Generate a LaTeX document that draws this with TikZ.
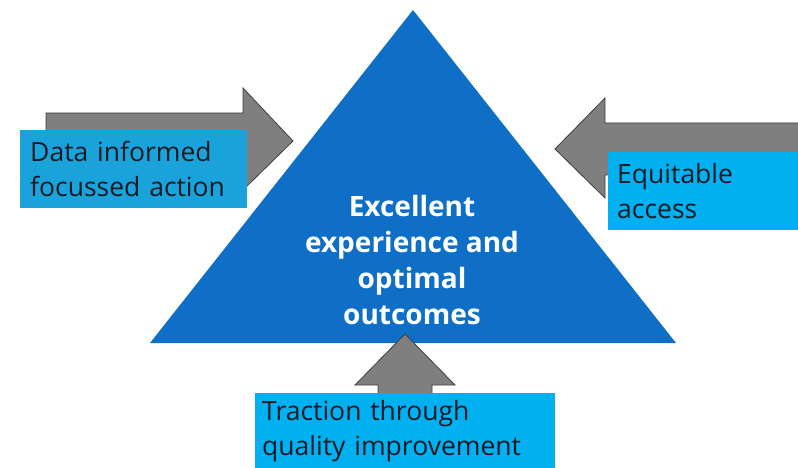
\documentclass[tikz,border=0pt]{standalone}
\usepackage{fontspec}
\setmainfont{Open Sans}
\usetikzlibrary{positioning}
\definecolor{triBlue}{HTML}{0F6FC6}
\definecolor{boxCyan}{HTML}{00B0F0}
\definecolor{boxCyanDark}{HTML}{1AA2DA}
\definecolor{pushGray}{HTML}{7F7F7F}
\definecolor{pushEdge}{HTML}{3F3F3F}
\definecolor{inkDark}{HTML}{1A1A24}

\begin{document}
\begin{tikzpicture}[
  x=1pt, y=-1pt,
  push/.style={fill=pushGray, draw=pushEdge, line width=0.8pt, line join=miter},
  driver/.style={rectangle, fill=boxCyan, draw=none, anchor=north west,
                 align=left, text=inkDark, minimum height=78pt,
                 font=\fontsize{26.5}{35}\selectfont},
  goal/.style={align=center, text=white,
               font=\fontsize{28}{36.3}\selectfont\bfseries},
]
\useasboundingbox (0,0) rectangle (798,468);

% triangle in the middle
\coordinate (apex) at (413,10);
\coordinate (baseL) at (150,343);
\coordinate (baseR) at (676,343);
\fill[triBlue] (apex) -- (baseR) -- (baseL) -- cycle;

% block arrows pushing into the triangle
\coordinate (tipL) at (293,141);
\coordinate (tipR) at (555,149);
\coordinate (tipB) at (405,334);
\draw[push] (46,113) -- (243,113) -- (243,88) -- (tipL) -- (243,190)
  -- (243,165) -- (46,165) -- cycle;
\draw[push] (800,123) -- (605,123) -- (605,98) -- (tipR) -- (605,198)
  -- (605,175) -- (800,175) -- cycle;
\draw[push] (378,470) -- (378,385) -- (355,385) -- (tipB) -- (455,385)
  -- (432,385) -- (432,470) -- cycle;

% labels
\node[goal] (goal) at (412,260) {Excellent\\experience and\\optimal\\outcomes};

\node[driver, fill=boxCyanDark, minimum width=227pt, text width=207pt,
      inner xsep=10pt] (data) at (20,130) {Data informed\\focussed action};
\node[driver, minimum width=190pt, text width=172pt, inner xsep=9pt]
  (access) at (608,152) {Equitable\\access};
\node[driver, minimum width=300pt, minimum height=75pt, text width=286pt,
      inner xsep=7pt] (quality) at (255,393) {Traction through\\quality improvement};
\end{tikzpicture}
\end{document}
